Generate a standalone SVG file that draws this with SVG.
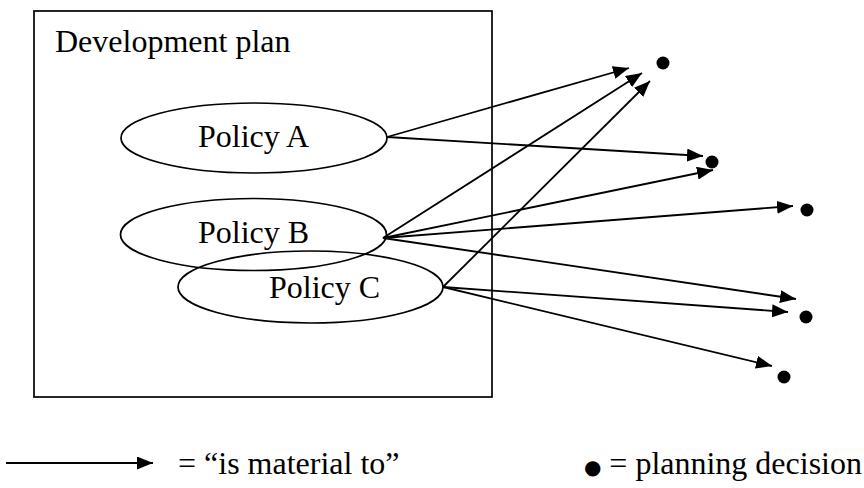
<svg xmlns="http://www.w3.org/2000/svg" width="864" height="488" viewBox="0 0 864 488">
<style>
.t{font-family:"Liberation Serif","Times New Roman",serif;font-size:32px;fill:#000}
.s{fill:none;stroke:#000;stroke-width:1.7}
.c{stroke:#000;stroke-width:1.8;fill:none;marker-end:url(#ah)}
.d{fill:#000}
</style>
<defs>
<marker id="ah" markerUnits="userSpaceOnUse" viewBox="0 0 16 13" markerWidth="16" markerHeight="13" refX="16" refY="6.5" orient="auto">
<path d="M0,0 L16,6.5 L0,13 z" fill="#000"/>
</marker>
</defs>
<g id="plan">
<rect class="s" x="34" y="11" width="458" height="386"/>
<text class="t" x="55" y="52">Development plan</text>
</g>
<g id="policyA">
<ellipse class="s" cx="254" cy="138" rx="133" ry="35"/>
<text class="t" x="198" y="147">Policy A</text>
</g>
<g id="policyB">
<ellipse class="s" cx="253.5" cy="234.5" rx="133" ry="36"/>
<text class="t" x="198" y="243">Policy B</text>
</g>
<g id="policyC">
<ellipse class="s" cx="310.5" cy="287" rx="132.5" ry="36"/>
<text class="t" x="269" y="298">Policy C</text>
</g>
<g id="decisions">
<circle class="d" cx="663" cy="63" r="6.5"/>
<circle class="d" cx="712" cy="162" r="6.5"/>
<circle class="d" cx="807" cy="210" r="6.5"/>
<circle class="d" cx="806" cy="317" r="6.5"/>
<circle class="d" cx="784" cy="377" r="6.5"/>
</g>
<g id="connectors">
<line class="c" x1="387" y1="137" x2="629" y2="68"/>
<line class="c" x1="387" y1="137" x2="703" y2="156"/>
<line class="c" x1="383" y1="238" x2="642" y2="73"/>
<line class="c" x1="383" y1="238" x2="713" y2="170"/>
<line class="c" x1="383" y1="238" x2="793" y2="206"/>
<line class="c" x1="383" y1="238" x2="796" y2="299"/>
<line class="c" x1="443" y1="287" x2="650" y2="81"/>
<line class="c" x1="443" y1="287" x2="788" y2="312"/>
<line class="c" x1="443" y1="287" x2="772" y2="366"/>
</g>
<g id="legend">
<line class="c" x1="6" y1="463" x2="153" y2="463"/>
<text class="t" x="178" y="474">= “is material to”</text>
<text class="t" x="862" y="474" text-anchor="end"><tspan font-family="DejaVu Sans" font-size="20">●</tspan> = planning decision</text>
</g>
</svg>
